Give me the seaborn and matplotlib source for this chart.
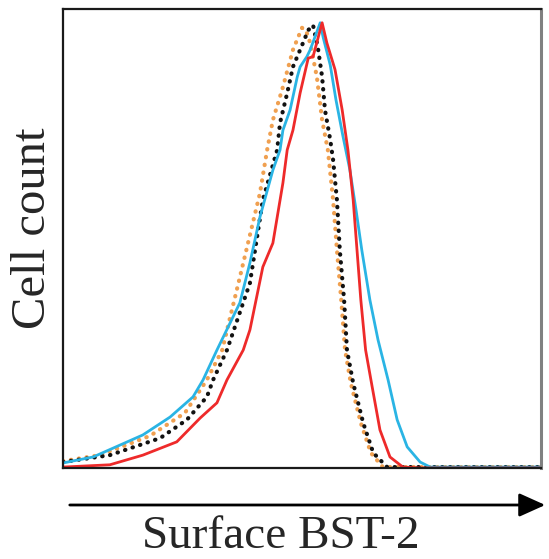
import matplotlib
matplotlib.use("Agg")
import matplotlib.pyplot as plt
import seaborn as sns
import pandas as pd

# Fluorescence channel (0-1000) and cell count (% of max)
red_x = [0, 98, 167, 238, 287, 322, 343, 377, 391, 418, 439, 460, 469, 481, 496, 513, 523, 542,
         552, 569, 584, 596, 607, 615, 623, 633, 646, 663, 684, 711, 747, 1000]
red_y = [0.2, 0.7, 2.8, 5.7, 10.9, 14.2, 19.2, 25.7, 30.1, 43.8, 49.0, 62.1, 69.3, 73.6, 81.7, 89.3, 89.6, 97.0,
         92.6, 86.8, 78.0, 69.3, 58.4, 47.5, 36.6, 25.7, 18.1, 8.3, 2.4, 0.2, 0.0, 0.0]

cyan_x = [0, 63, 167, 224, 272, 293, 322, 370, 391, 412, 439, 454, 460, 475, 490, 496, 510, 517, 527, 538,
          544, 559, 571, 585, 600, 613, 625, 642, 659, 680, 699, 720, 747, 768, 1000]
cyan_y = [1.1, 2.4, 7.2, 11.1, 15.5, 19.2, 25.7, 36.0, 44.7, 54.7, 64.9, 69.3, 73.6, 78.0, 85.2, 87.4, 89.6, 91.1, 93.9, 97.0,
          93.9, 87.8, 80.2, 72.6, 65.0, 56.2, 47.5, 36.6, 27.9, 19.2, 10.5, 4.6, 1.3, 0.2, 0.2]

black_x = [0, 98, 203, 259, 301, 314, 343, 391, 418, 448, 454, 469, 481, 502, 513, 523,
           533, 542, 548, 559, 565, 573, 579, 588, 594, 607, 628, 649, 678, 1000]
black_y = [1.3, 2.8, 6.5, 10.5, 15.5, 19.2, 25.7, 40.3, 58.4, 69.3, 75.2, 81.7, 87.4, 92.6, 95.4, 96.5,
           91.7, 85.2, 78.0, 71.5, 67.1, 58.4, 47.5, 36.6, 25.7, 18.5, 9.8, 3.3, 0.2, 0.2]

orange_x = [0, 77, 182, 255, 301, 333, 370, 412, 427, 439, 460, 481, 500,
            508, 517, 531, 542, 554, 565, 573, 582, 590, 602, 623, 644, 669, 1000]
orange_y = [1.5, 2.8, 7.0, 12.0, 19.2, 25.7, 41.6, 59.9, 69.3, 75.8, 83.0, 91.1, 95.9,
            95.4, 92.6, 85.2, 75.8, 69.3, 58.4, 47.5, 36.6, 25.7, 18.5, 9.8, 3.3, 0.2, 0.2]

sns.set_style("white")
plt.rcParams['font.family'] = ['Liberation Serif', 'DejaVu Serif']

fig = plt.figure(figsize=(5.49, 5.59), dpi=100)
ax = fig.add_axes([0.1148, 0.1628, 0.8707, 0.8211])

dot = (0, (0.1, 1.8))
sns.lineplot(x=orange_x, y=orange_y, ax=ax, color="#f0a050", lw=3.0, linestyle=dot,
             dash_capstyle="round", estimator=None, sort=False)
sns.lineplot(x=black_x, y=black_y, ax=ax, color="#111111", lw=3.0, linestyle=dot,
             dash_capstyle="round", estimator=None, sort=False)
sns.lineplot(x=cyan_x, y=cyan_y, ax=ax, color="#2ab4e4", lw=2.0,
             estimator=None, sort=False)
sns.lineplot(x=red_x, y=red_y, ax=ax, color="#ee2a2a", lw=2.0,
             estimator=None, sort=False)

ax.set_xlim(0, 1000)
ax.set_ylim(0, 100)
ax.set_xticks([])
ax.set_yticks([])
ax.set_xlabel("")
ax.set_ylabel("")
for s in ["left", "bottom", "top"]:
    ax.spines[s].set_color("#1a1a1a")
    ax.spines[s].set_linewidth(1.6)
ax.spines["right"].set_color("#808080")
ax.spines["right"].set_linewidth(2.2)

fig.text(0.060, 0.592, "Cell count", rotation=90, ha="center", va="center", fontsize=35)
fig.text(0.512, 0.040, "Surface BST-2", ha="center", va="center", fontsize=34)

fig.add_artist(matplotlib.patches.FancyArrowPatch(
    (67 / 549, 1 - 505 / 559), (548 / 549, 1 - 505 / 559), transform=fig.transFigure,
    arrowstyle="-|>,head_length=1.0,head_width=0.45", mutation_scale=16,
    color="black", lw=2.0))

fig.savefig("out.png", dpi=100)
